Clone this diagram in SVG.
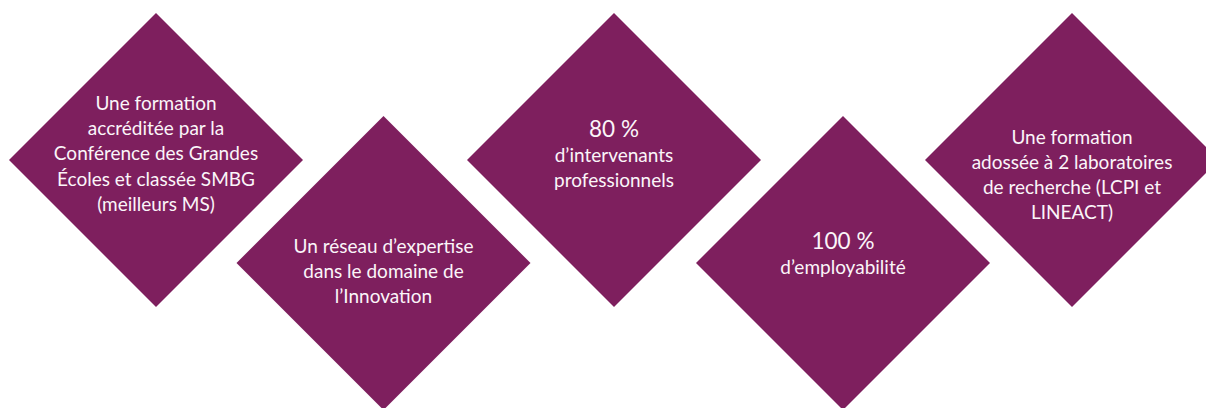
<svg xmlns="http://www.w3.org/2000/svg" width="1206" height="408" viewBox="0 0 1206 408">
<style>
.d{fill:#7E1F5E}
.t{font-family:Lato,"Source Sans Pro","Liberation Sans",sans-serif;font-size:19px;fill:#FBF5F9;text-anchor:middle}
.n{font-size:22.5px}
</style>
<rect width="1206" height="408" fill="#FFFFFF"/>
<g id="node1">
<polygon class="d" points="156,13 303,160 156,307 9,160"/>
<text class="t" x="156" y="110">Une formation</text>
<text class="t" x="156" y="135.2">accréditée par la</text>
<text class="t" x="156" y="160.4">Conférence des Grandes</text>
<text class="t" x="156" y="185.6">Écoles et classée SMBG</text>
<text class="t" x="156" y="210.8">(meilleurs MS)</text>
</g>
<g id="node2">
<polygon class="d" points="383.5,116 530.5,263 383.5,410 236.5,263"/>
<text class="t" x="383.5" y="253">Un réseau d’expertise</text>
<text class="t" x="383.5" y="278">dans le domaine de</text>
<text class="t" x="383.5" y="303">l’Innovation</text>
</g>
<g id="node3">
<polygon class="d" points="614,13 761,160 614,307 467,160"/>
<text class="t n" x="614" y="137">80 %</text>
<text class="t" x="614" y="162">d’intervenants</text>
<text class="t" x="614" y="187">professionnels</text>
</g>
<g id="node4">
<polygon class="d" points="843,116 990,263 843,410 696,263"/>
<text class="t n" x="843" y="249">100 %</text>
<text class="t" x="843" y="273.5">d’employabilité</text>
</g>
<g id="node5">
<polygon class="d" points="1072,13 1219,160 1072,307 925,160"/>
<text class="t" x="1072" y="144">Une formation</text>
<text class="t" x="1072" y="169">adossée à 2 laboratoires</text>
<text class="t" x="1072" y="194">de recherche (LCPI et</text>
<text class="t" x="1072" y="219">LINEACT)</text>
</g>
<g id="connectors"/>
</svg>
